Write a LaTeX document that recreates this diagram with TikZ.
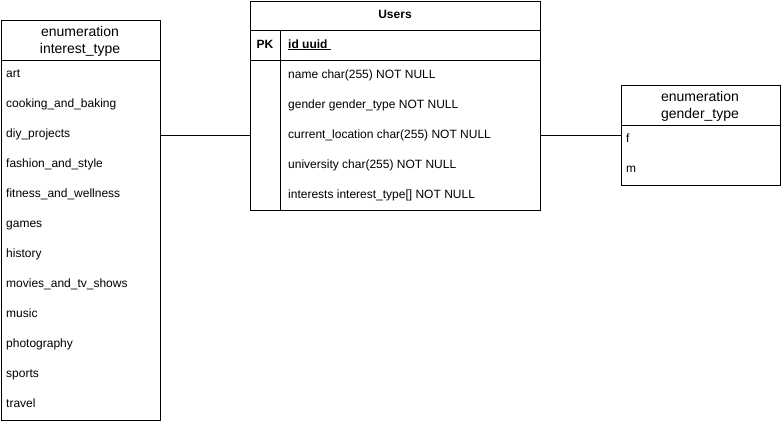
\documentclass[tikz,border=0pt]{standalone}
\usepackage{fontspec}
\setmainfont{Liberation Sans}
\usetikzlibrary{positioning,calc}

\begin{document}
\begin{tikzpicture}[x=1pt,y=-1pt,every node/.style={inner sep=0pt},
  tbl/.style={draw,line width=1pt,rectangle,anchor=north west},
  hdr/.style={font=\fontsize{14}{17}\selectfont,align=center},
  fld/.style={anchor=west,text height=9pt,text depth=3pt,font=\fontsize{12}{14}\selectfont}]
\useasboundingbox (0,0) rectangle (781,424);
% enumeration interest_type
\node[tbl,minimum width=159pt,minimum height=400pt] (interest) at (0.5,20) {};
\draw[line width=1pt] ([yshift=-40pt]interest.north west) -- ([yshift=-40pt]interest.north east);
\node[hdr] (interesthdr) at (80,41.5) {enumeration\\interest\_type};
\foreach \t [count=\i] in {art,cooking\_and\_baking,diy\_projects,fashion\_and\_style,fitness\_and\_wellness,games,history,movies\_and\_tv\_shows,music,photography,sports,travel}
  \node[fld] (it\i) at (6,44+30*\i) {\t};
% Users
\node[tbl,minimum width=290pt,minimum height=209.5pt] (users) at (250,0.5) {};
\draw[line width=1pt] ([yshift=-30pt]users.north west) -- ([yshift=-30pt]users.north east);
\draw[line width=1pt] ([yshift=-60pt]users.north west) -- ([yshift=-60pt]users.north east);
\draw[line width=1pt] ([shift={(30pt,-30pt)}]users.north west) -- ([xshift=30pt]users.south west);
\node[fld,anchor=center,font=\fontsize{12}{14}\selectfont\bfseries] (usershdr) at (395,15) {Users};
\node[fld,anchor=center,font=\fontsize{12}{14}\selectfont\bfseries] (pk) at (265,45) {PK};
\node[fld,font=\fontsize{12}{14}\selectfont\bfseries] (id) at (288,45) {\underline{id uuid\ }};
\node[fld] (name) at (288,75) {name char(255) NOT NULL};
\node[fld] (gender) at (288,105) {gender gender\_type NOT NULL};
\node[fld] (loc) at (288,135) {current\_location char(255) NOT NULL};
\node[fld] (univ) at (288,165) {university char(255) NOT NULL};
\node[fld] (interests) at (288,195) {interests interest\_type[] NOT NULL};
% enumeration gender_type
\node[tbl,minimum width=159.5pt,minimum height=100pt] (gendertype) at (620.5,85) {};
\draw[line width=1pt] ([yshift=-40pt]gendertype.north west) -- ([yshift=-40pt]gendertype.north east);
\node[hdr] (genderhdr) at (700,106.5) {enumeration\\gender\_type};
\node[fld] (f) at (626,139) {f};
\node[fld] (m) at (626,169) {m};
% connectors
\draw[line width=1pt] (interest.east |- loc) -- (users.west |- loc);
\draw[line width=1pt] (users.east |- loc) -- (gendertype.west |- loc);
\end{tikzpicture}
\end{document}
